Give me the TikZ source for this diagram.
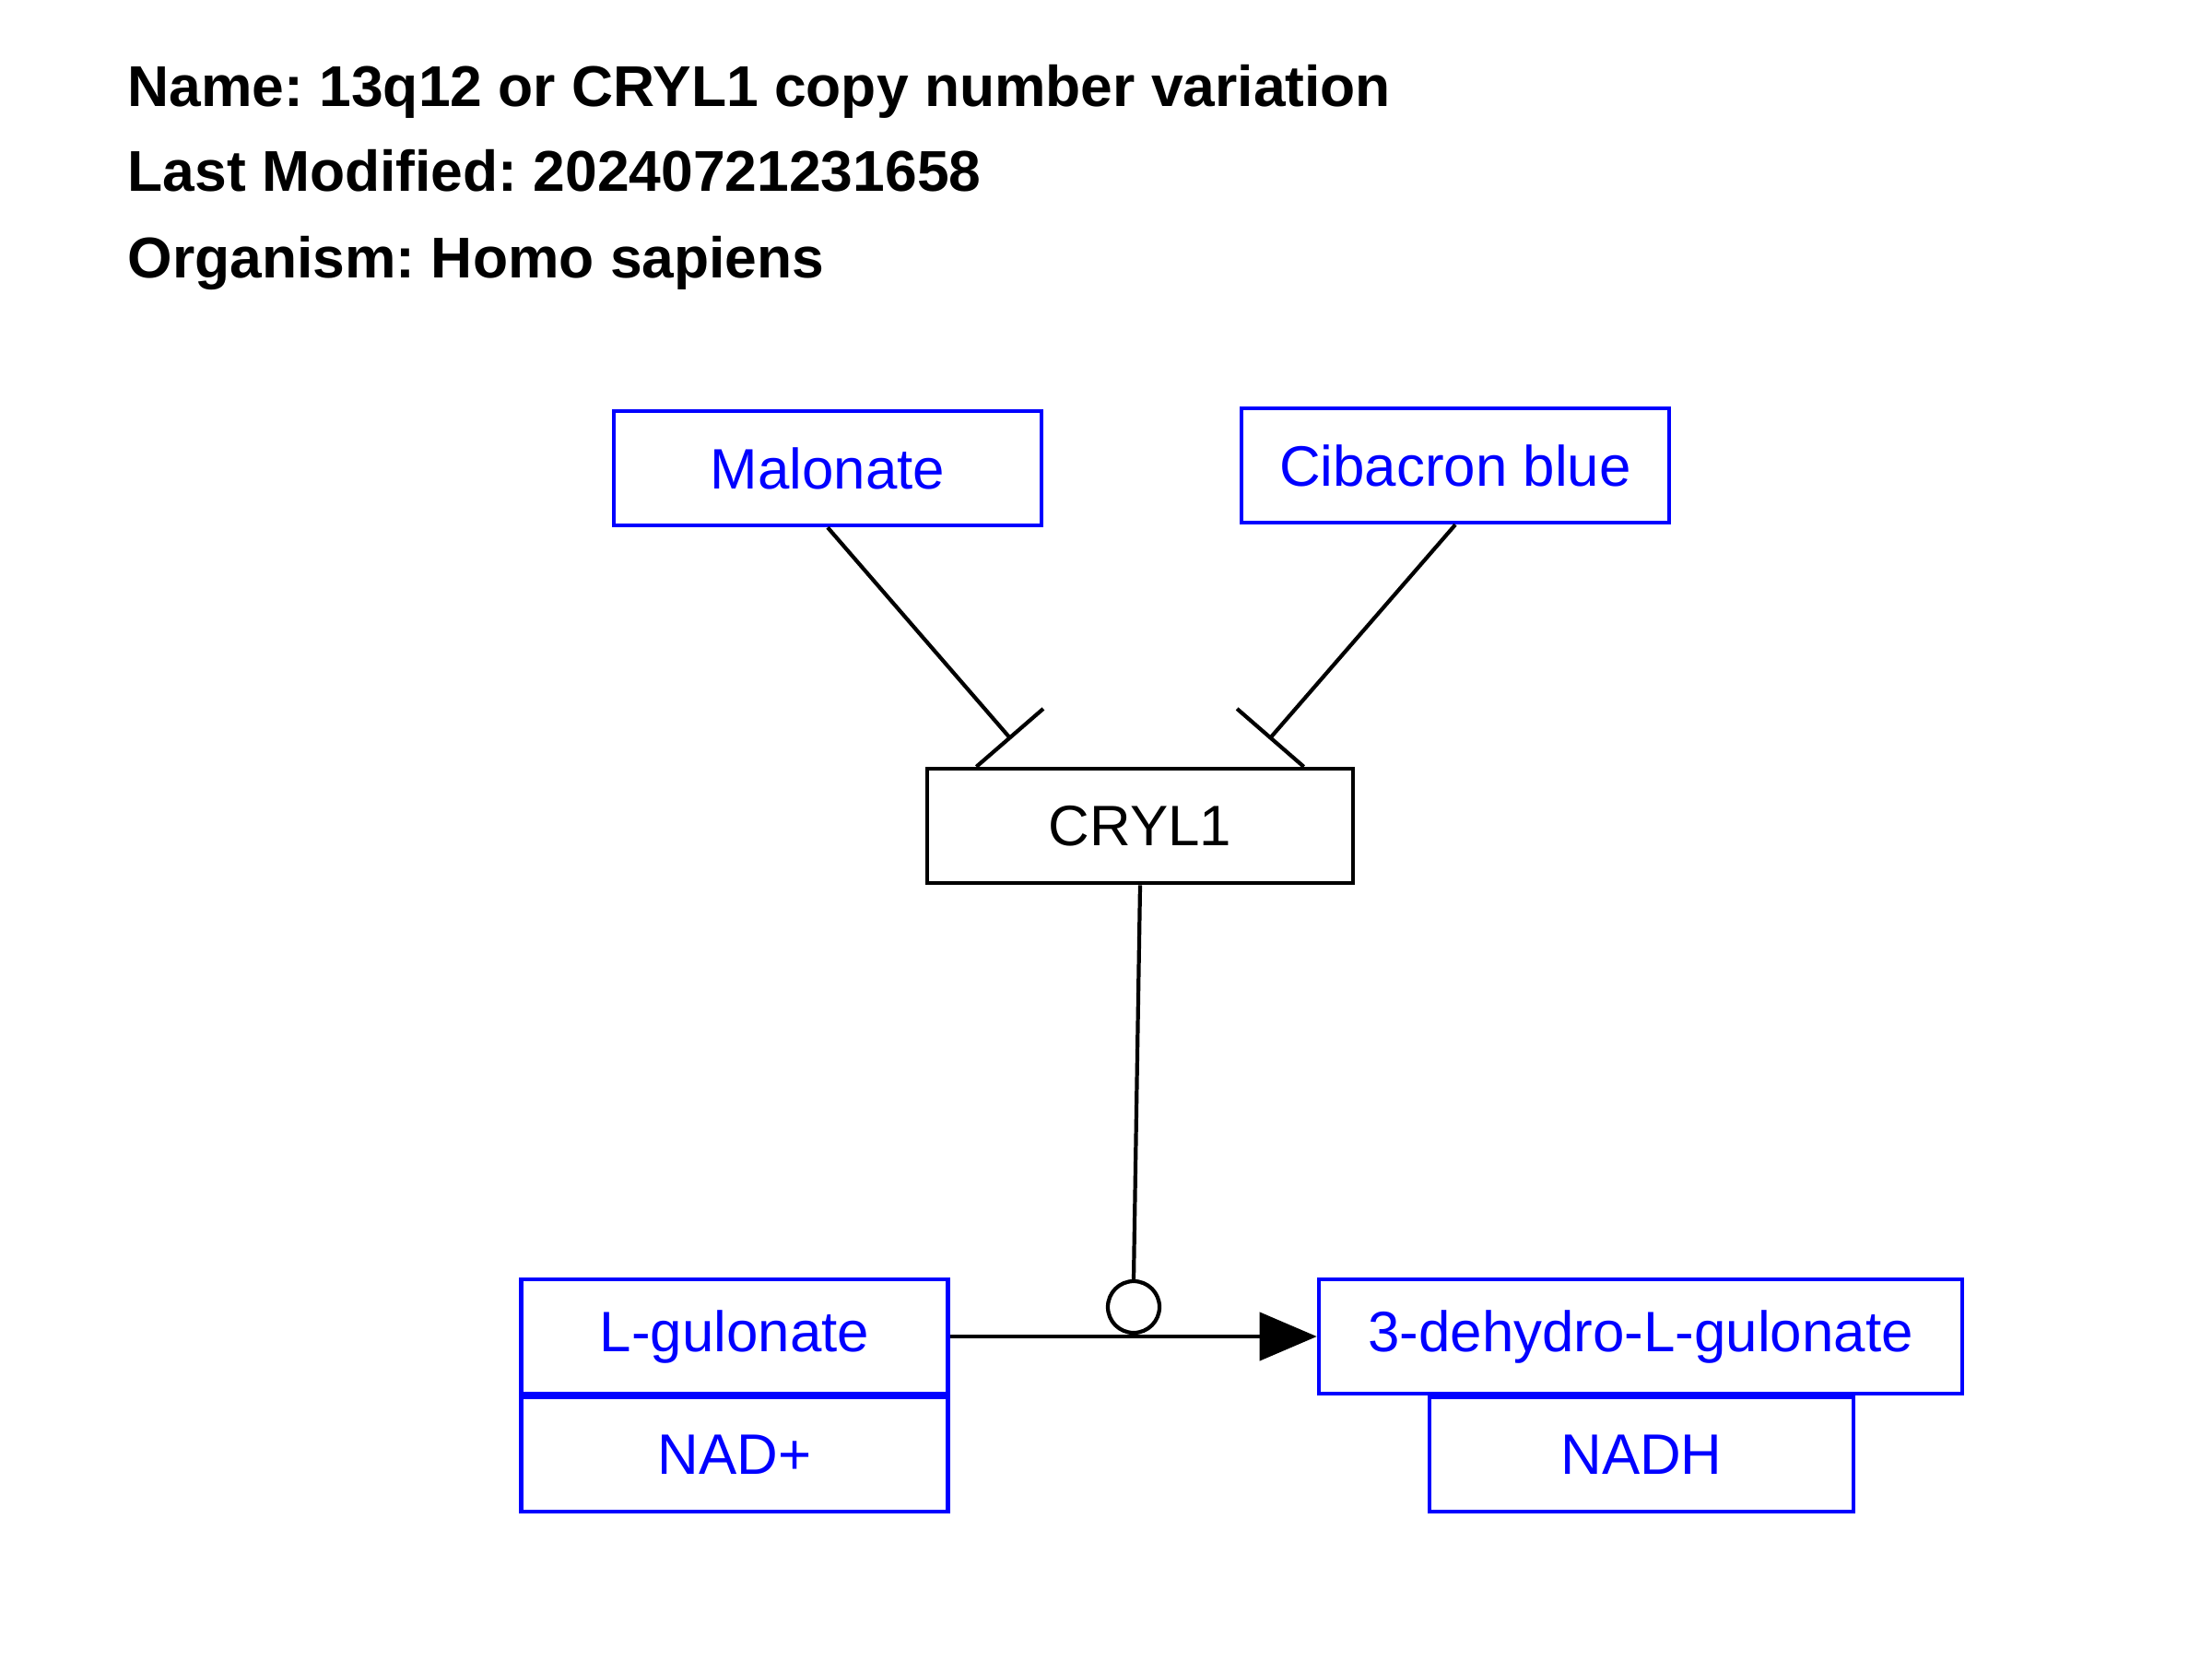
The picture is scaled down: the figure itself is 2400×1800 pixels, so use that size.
\documentclass[tikz,border=0pt]{standalone}
\usepackage{fontspec}
\setmainfont{Liberation Sans}
\usetikzlibrary{arrows.meta}
\definecolor{gpblue}{RGB}{0,0,255}
\frenchspacing
\begin{document}
\begin{tikzpicture}[x=0.1mm,y=-0.1mm,
  every node/.style={font=\fontsize{17.6pt}{21pt}\selectfont},
  titletext/.style={anchor=base west,inner sep=0pt,font=\fontsize{17.75pt}{21pt}\selectfont\bfseries},
  metab/.style={draw=gpblue,text=gpblue,line width=1.3pt,inner sep=0pt,minimum height=12.4mm},
  gene/.style={draw=black,text=black,line width=1.3pt,inner sep=0pt,minimum height=12.4mm},
  conn/.style={line width=1.2pt,draw=black},
  inhib/.style={conn,-{Bar[width=9.6mm,line width=1.2pt]}},
  conv/.style={conn,-{Triangle[length=6.2mm,width=5.2mm]}}
]
\useasboundingbox (0,0) rectangle (2400,1800);
\fill[white] (0,0) rectangle (2400,1800);

\node[titletext] (t1) at (138,116) {Name: 13q12 or CRYL1 copy number variation};
\node[titletext] (t2) at (138,208) {Last Modified: 20240721231658};
\node[titletext] (t3) at (138,302) {Organism: Homo sapiens};

\node[metab,minimum width=46.4mm] (mal) at (898,508) {Malonate};
\node[metab,minimum width=46.4mm] (cib) at (1579,505) {Cibacron blue};
\node[gene,minimum width=46.2mm] (cryl) at (1237,896) {CRYL1};
\node[metab,minimum width=46.3mm] (lg) at (797,1450) {L-gulonate};
\node[metab,minimum width=46.3mm] (nad) at (797,1578) {NAD+};
\node[metab,minimum width=69.8mm] (dh) at (1780,1450) {3-dehydro-L-gulonate};
\node[metab,minimum width=46.0mm] (nadh) at (1781,1578) {NADH};

\coordinate (im) at (1097,802);
\coordinate (ic) at (1377,802);
\draw[inhib] (mal.south) -- (im);
\draw[inhib] (cib.south) -- (ic);

\draw[conv] (lg.east) -- (dh.west);
\node[draw=black,line width=1.2pt,circle,minimum size=5.6mm,inner sep=0pt,fill=white] (cat) at (1230,1418) {};
\draw[conn] (cryl.south) -- (cat.north);
\end{tikzpicture}
\end{document}
